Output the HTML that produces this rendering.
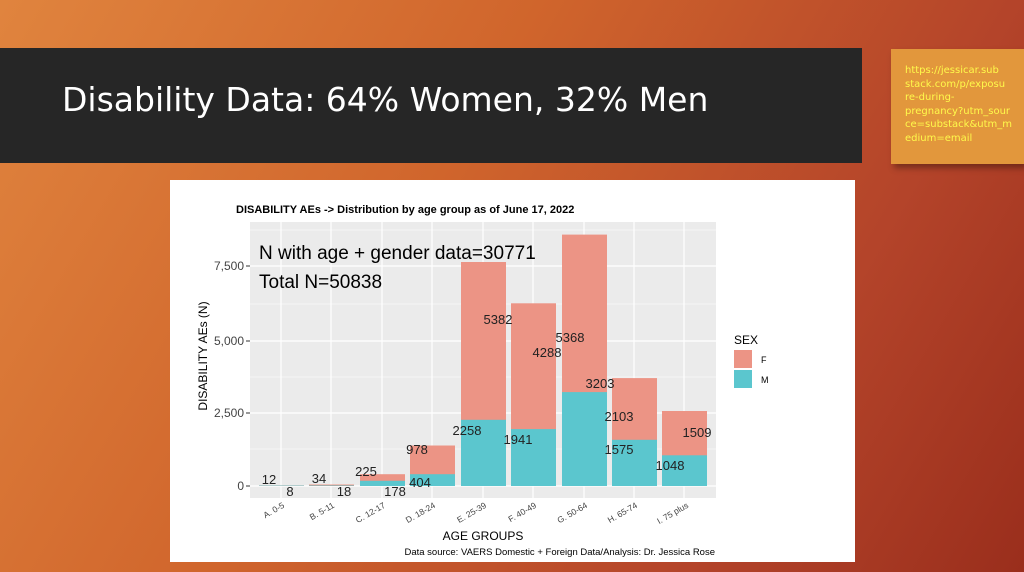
<!DOCTYPE html>
<html><head><style>
body{margin:0;width:1024px;height:572px;overflow:hidden;background:linear-gradient(120deg,#e0843e 0%,#d0652c 40%,#b4442a 75%,#9a2e1c 100%);font-family:"Liberation Sans",sans-serif;position:relative}
.bar{position:absolute;left:0;top:48px;width:862px;height:115px;background:#262626}
.title{position:absolute;left:62px;top:80px;color:#fff;font-size:33px;font-family:"DejaVu Sans","Liberation Sans",sans-serif}
.note{position:absolute;left:891px;top:49px;width:133px;height:115px;background:#e2973c;box-shadow:3px 4px 6px rgba(0,0,0,.35)}
.note div{position:absolute;left:14px;top:15px;color:#fff94a;font-size:10px;line-height:13.5px;white-space:pre;font-family:"DejaVu Sans",sans-serif}
.card{position:absolute;left:170px;top:180px;width:685px;height:382px;background:#fff}
</style></head><body>
<div class="bar"></div>
<div class="title">Disability Data: 64% Women, 32% Men</div>
<div class="note"><div>https://jessicar.sub
stack.com/p/exposu
re-during-
pregnancy?utm_sour
ce=substack&amp;utm_m
edium=email</div></div>
<div class="card"></div>
<svg width="1024" height="572" style="position:absolute;left:0;top:0" font-family="Liberation Sans, sans-serif">
<text x="236" y="213" font-size="11" font-weight="bold">DISABILITY AEs -&gt; Distribution by age group as of June 17, 2022</text>
<rect x="250" y="222" width="466" height="276" fill="#ebebeb"/>
<g stroke="#fff" stroke-width="0.6">
<line x1="250" x2="716" y1="449" y2="449"/><line x1="250" x2="716" y1="377" y2="377"/><line x1="250" x2="716" y1="304" y2="304"/><line x1="250" x2="716" y1="230" y2="230"/>
</g>
<g stroke="#fff" stroke-width="1.2">
<line x1="250" x2="716" y1="486" y2="486"/><line x1="250" x2="716" y1="413" y2="413"/><line x1="250" x2="716" y1="341" y2="341"/><line x1="250" x2="716" y1="266" y2="266"/>
<line x1="281" x2="281" y1="222" y2="498"/><line x1="331" x2="331" y1="222" y2="498"/><line x1="382" x2="382" y1="222" y2="498"/><line x1="432" x2="432" y1="222" y2="498"/><line x1="483" x2="483" y1="222" y2="498"/><line x1="533" x2="533" y1="222" y2="498"/><line x1="584" x2="584" y1="222" y2="498"/><line x1="634" x2="634" y1="222" y2="498"/><line x1="684" x2="684" y1="222" y2="498"/>
</g>
<g fill="#ec9485">
<rect x="259" y="485.4" width="45" height="0.6"/>
<rect x="309" y="484.5" width="45" height="1.5"/>
<rect x="360" y="474.2" width="45" height="11.8"/>
<rect x="410" y="445.5" width="45" height="40.5"/>
<rect x="461" y="262" width="45" height="224"/>
<rect x="511" y="303.3" width="45" height="182.7"/>
<rect x="562" y="234.6" width="45" height="251.4"/>
<rect x="612" y="378.1" width="45" height="107.9"/>
<rect x="662" y="411" width="45" height="75"/>
</g>
<g fill="#5bc6ce">
<rect x="259" y="485.6" width="45" height="0.4"/>
<rect x="309" y="485.5" width="45" height="0.5"/>
<rect x="360" y="480.8" width="45" height="5.2"/>
<rect x="410" y="474.2" width="45" height="11.8"/>
<rect x="461" y="419.8" width="45" height="66.2"/>
<rect x="511" y="429.1" width="45" height="56.9"/>
<rect x="562" y="392.1" width="45" height="93.9"/>
<rect x="612" y="439.8" width="45" height="46.2"/>
<rect x="662" y="455.3" width="45" height="30.7"/>
</g>
<g font-size="13" text-anchor="middle" fill="#222">
<text x="269" y="484">12</text><text x="290" y="496">8</text><text x="319" y="483">34</text><text x="344" y="496">18</text>
<text x="366" y="476">225</text><text x="395" y="496">178</text><text x="417" y="454">978</text><text x="420" y="487">404</text>
<text x="498" y="324">5382</text><text x="467" y="435">2258</text><text x="547" y="357">4288</text><text x="518" y="444">1941</text>
<text x="570" y="342">5368</text><text x="600" y="388">3203</text><text x="619" y="421">2103</text><text x="619" y="454">1575</text>
<text x="697" y="437">1509</text><text x="670" y="470">1048</text>
</g>
<text x="259" y="259" font-size="19">N with age + gender data=30771</text>
<text x="259" y="288" font-size="19">Total N=50838</text>
<g font-size="12" fill="#444" text-anchor="end">
<text x="244" y="490">0</text><text x="244" y="417">2,500</text><text x="244" y="345">5,000</text><text x="244" y="270">7,500</text>
</g>
<g stroke="#333"><line x1="246" x2="250" y1="486" y2="486"/><line x1="246" x2="250" y1="413" y2="413"/><line x1="246" x2="250" y1="341" y2="341"/><line x1="246" x2="250" y1="266" y2="266"/></g>
<text transform="translate(207,356) rotate(-90)" font-size="12" text-anchor="middle">DISABILITY AEs (N)</text>
<g font-size="8.5" fill="#444" text-anchor="end">
<text transform="translate(285,507) rotate(-30)">A. 0-5</text>
<text transform="translate(335,507) rotate(-30)">B. 5-11</text>
<text transform="translate(386,507) rotate(-30)">C. 12-17</text>
<text transform="translate(436,507) rotate(-30)">D. 18-24</text>
<text transform="translate(487,507) rotate(-30)">E. 25-39</text>
<text transform="translate(537,507) rotate(-30)">F. 40-49</text>
<text transform="translate(588,507) rotate(-30)">G. 50-64</text>
<text transform="translate(638,507) rotate(-30)">H. 65-74</text>
<text transform="translate(689,507) rotate(-30)">I. 75 plus</text>
</g>
<text x="483" y="540" font-size="12" text-anchor="middle">AGE GROUPS</text>
<text x="715" y="555" font-size="9.5" text-anchor="end">Data source: VAERS Domestic + Foreign Data/Analysis: Dr. Jessica Rose</text>
<text x="734" y="344" font-size="12">SEX</text>
<rect x="734" y="350" width="18" height="18" fill="#ec9485"/>
<rect x="734" y="370" width="18" height="18" fill="#5bc6ce"/>
<text x="761" y="363" font-size="9">F</text>
<text x="761" y="383" font-size="9">M</text>
</svg>
</body></html>
